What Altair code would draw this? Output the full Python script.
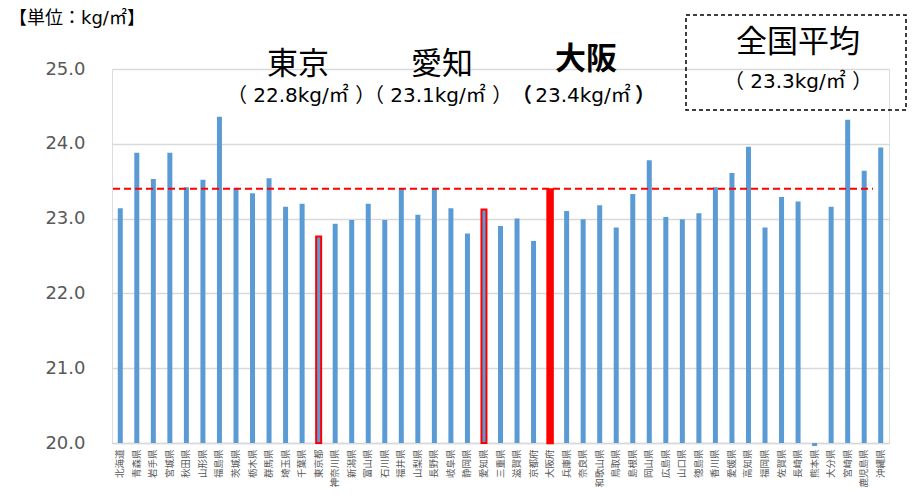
import altair as alt
import pandas as pd

prefectures = ["北海道","青森県","岩手県","宮城県","秋田県","山形県","福島県","茨城県","栃木県","群馬県",
               "埼玉県","千葉県","東京都","神奈川県","新潟県","富山県","石川県","福井県","山梨県","長野県",
               "岐阜県","静岡県","愛知県","三重県","滋賀県","京都府","大阪府","兵庫県","奈良県","和歌山県",
               "鳥取県","島根県","岡山県","広島県","山口県","徳島県","香川県","愛媛県","高知県","福岡県",
               "佐賀県","長崎県","熊本県","大分県","宮崎県","鹿児島県","沖縄県"]
values = [23.14,23.88,23.53,23.88,23.42,23.52,24.36,23.41,23.34,23.54,
          23.16,23.20,22.76,22.93,22.98,23.20,22.98,23.40,23.05,23.41,
          23.14,22.80,23.12,22.90,23.00,22.70,23.39,23.10,22.99,23.18,
          22.88,23.33,23.78,23.02,22.99,23.07,23.42,23.61,23.96,22.88,
          23.29,23.23,19.96,23.16,24.32,23.64,23.95]
outlined = ["東京都","愛知県"]
filled = ["大阪府"]
ref_line = [23.4]
y_ticks = [20, 21, 22, 23, 24, 25]

unit_text = ["【単位：kg/㎡】"]
city_names = ["東京", "愛知"]
city_vals = ["（ 22.8kg/㎡ ）", "（ 23.1kg/㎡ ）"]
osaka_name = ["大阪"]
osaka_val = ["23.4kg/㎡"]
parens = ["（", "）"]
nat_name = ["全国平均"]
nat_val = ["（ 23.3kg/㎡ ）"]

df = pd.DataFrame({"pref": prefectures, "value": values})
df["kind"] = ["outline" if p in outlined else ("fill" if p in filled else "normal") for p in prefectures]

W, H = 777, 374
BLUE = "#5B9BD5"
RED = "#FF0000"
JP = "Noto Sans CJK JP"
NUM = "DejaVu Sans, Noto Sans CJK JP"

x_enc = alt.X("pref:N", sort=prefectures, title=None,
              scale=alt.Scale(paddingInner=0, paddingOuter=0),
              axis=alt.Axis(labelAngle=270, labelAlign="right", labelBaseline="middle",
                            labelFont=JP, labelFontSize=9.5,
                            labelColor="#595959", labelPadding=6, ticks=False,
                            domainColor="#D9D9D9", domainWidth=1.3, grid=False,
                            labelOverlap=False))
y_enc = alt.Y("value:Q", title=None,
              scale=alt.Scale(domain=[20, 25], zero=False, nice=False),
              axis=alt.Axis(values=y_ticks, format=".1f", labelFont=NUM, labelFontSize=18,
                            labelColor="#595959", labelPadding=27, ticks=False, domain=False,
                            grid=True, gridColor="#D9D9D9", gridWidth=1.3))

base = alt.Chart(df)
bars_normal = base.transform_filter("datum.kind == 'normal'").mark_bar(
    size=5, color=BLUE).encode(x=x_enc, y=y_enc, y2=alt.datum(20))
bars_outline = base.transform_filter("datum.kind == 'outline'").mark_bar(
    size=5, fill=BLUE, stroke=RED, strokeWidth=2).encode(x=x_enc, y=y_enc, y2=alt.datum(20))
bars_fill = base.transform_filter("datum.kind == 'fill'").mark_bar(
    size=5, fill=RED, stroke=RED, strokeWidth=2.5).encode(x=x_enc, y=y_enc, y2=alt.datum(20))

rule = alt.Chart(pd.DataFrame({"v": ref_line})).mark_rule(
    color=RED, strokeWidth=2, strokeDash=[7, 4]).encode(
    y=alt.Y("v:Q"), x=alt.value(1), x2=alt.value(761))


def txt(values_list, x, y, size, bold=False, font=JP, align="center"):
    return alt.Chart(pd.DataFrame({"t": values_list})).mark_text(
        font=font, fontSize=size, fontWeight="bold" if bold else "normal",
        color="#000000", align=align, baseline="middle").encode(
        text="t:N", x=alt.value(x), y=alt.value(y))


texts = [
    txt(unit_text, -103, -50, 18, font=NUM, align="left"),
    txt([city_names[0]], 186, -4, 31),
    txt([city_names[1]], 330, -4, 31),
    txt(osaka_name, 474, -9, 31, bold=True),
    txt([city_vals[0]], 189, 27, 20, font=NUM),
    txt([city_vals[1]], 326, 27, 20, font=NUM),
    txt([parens[0]], 420, 27, 20, bold=True, font=NUM, align="right"),
    txt(osaka_val, 471, 27, 20, font=NUM),
    txt([parens[1]], 523, 27, 20, bold=True, font=NUM, align="left"),
    txt(nat_name, 686, -26, 31),
    txt(nat_val, 686, 13, 20, font=NUM),
]

box = alt.Chart(pd.DataFrame({"t": nat_name})).mark_rect(
    fill="transparent", stroke="#000000", strokeWidth=1.5, strokeDash=[4, 3]).encode(
    x=alt.value(574), x2=alt.value(794), y=alt.value(-54), y2=alt.value(41))

chart = alt.layer(bars_normal, bars_outline, bars_fill, rule, box, *texts).properties(
    width=W, height=H,
    autosize=alt.AutoSizeParams(type="none"),
    padding={"left": 104, "top": 61, "right": 19, "bottom": 44},
).configure_view(stroke=None).configure(background="white")

chart.save("out.html", embed_options={"renderer": "svg", "actions": False})
